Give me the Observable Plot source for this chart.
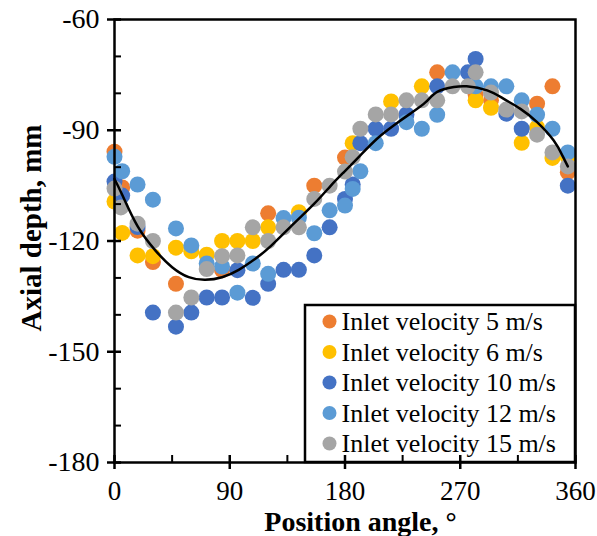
<!DOCTYPE html>
<html>
<head>
<meta charset="utf-8">
<script src="https://cdn.jsdelivr.net/npm/d3@7"></script>
<script src="https://cdn.jsdelivr.net/npm/@observablehq/plot@0.6"></script>
<style>
  html, body { margin: 0; padding: 0; background: white; }
  #chart { width: 597px; height: 536px; }
</style>
</head>
<body>
<div id="chart"></div>
<script>
// ---- Data ----
const seriesNames = ["Inlet velocity 5 m/s", "Inlet velocity 6 m/s", "Inlet velocity 10 m/s", "Inlet velocity 12 m/s", "Inlet velocity 15 m/s"];
const seriesColors = ["#ED7D31", "#FFC000", "#4472C4", "#5B9BD5", "#A5A5A5"];

const angle5 = [0, 6, 18, 30, 48, 84, 120, 156, 180, 252, 282, 294, 330, 342, 354];
const depth5 = [-95.8, -105.5, -117.2, -125.7, -131.6, -127.9, -112.5, -105.0, -97.4, -74.3, -80.4, -81.9, -82.8, -78.1, -101.4];

const angle6 = [0, 6, 18, 30, 48, 60, 72, 84, 96, 108, 120, 144, 186, 216, 240, 282, 294, 318, 330, 342, 354];
const depth6 = [-109.3, -117.8, -123.9, -124.1, -121.8, -122.8, -123.7, -120.0, -120.0, -120.0, -116.3, -112.2, -93.5, -82.2, -78.1, -81.9, -83.9, -93.4, -89.2, -97.5, -97.3];

const angle10 = [0, 6, 18, 30, 48, 60, 72, 84, 96, 108, 120, 132, 144, 156, 168, 180, 186, 192, 204, 216, 228, 252, 276, 282, 306, 318, 354];
const depth10 = [-103.9, -107.7, -116.2, -139.4, -143.2, -139.4, -135.3, -135.3, -127.9, -135.4, -131.6, -127.8, -127.8, -123.9, -116.3, -108.6, -104.7, -93.5, -89.6, -89.6, -85.7, -78.1, -74.3, -70.7, -85.5, -89.6, -105.0];

const angle12 = [0, 6, 18, 30, 48, 60, 72, 84, 96, 108, 120, 132, 144, 156, 168, 180, 186, 192, 204, 228, 240, 252, 264, 282, 294, 306, 318, 330, 342, 354];
const depth12 = [-97.2, -101.1, -104.7, -108.8, -116.6, -121.2, -126.1, -126.9, -134.0, -126.1, -128.9, -113.8, -113.7, -117.9, -111.7, -110.4, -105.9, -101.1, -93.5, -87.8, -89.6, -85.8, -74.3, -78.1, -78.1, -78.1, -81.9, -85.8, -89.6, -96.0];

const angle15 = [0, 5, 18, 30, 48, 60, 72, 84, 96, 108, 120, 132, 144, 156, 168, 180, 186, 192, 204, 216, 228, 240, 252, 264, 276, 282, 294, 306, 318, 330, 342, 354];
const depth15 = [-105.8, -110.9, -115.3, -120.0, -139.4, -135.3, -127.6, -124.1, -123.9, -116.3, -120.0, -116.3, -116.3, -108.6, -105.0, -101.2, -97.3, -89.6, -85.7, -85.7, -81.9, -81.9, -81.9, -78.1, -78.1, -74.3, -79.8, -84.4, -84.9, -91.2, -96.0, -99.8];

// Trend line
const trendAngle = [0, 6, 18, 32, 45, 58, 71, 84, 97, 110, 122, 140, 156, 169, 179, 192, 205, 218, 231, 243, 252, 265, 275, 291, 304, 317, 330, 343, 350, 354];
const trendDepth = [-103.2, -107.5, -116.0, -122.6, -127.1, -129.8, -130.5, -129.8, -127.8, -124.8, -121.4, -115.3, -109.9, -105.0, -101.4, -96.8, -92.3, -88.7, -85.5, -82.4, -79.6, -78.3, -78.1, -79.2, -81.5, -84.2, -87.8, -92.8, -97.0, -99.8];

const xTicks = [0, 90, 180, 270, 360];
const xMinor = [45, 135, 225, 315];
const yTicks = [-180, -150, -120, -90, -60];
const yMinor = [-170, -160, -140, -130, -110, -100, -80, -70];

// ---- Build table ----
const allAngles = [angle5, angle6, angle10, angle12, angle15];
const allDepths = [depth5, depth6, depth10, depth12, depth15];
const points = [];
allAngles.forEach((xs, s) => xs.forEach((a, i) => points.push({series: seriesNames[s], angle: a, depth: allDepths[s][i]})));
const trend = trendAngle.map((a, i) => ({angle: a, depth: trendDepth[i]}));

// ---- Layout ----
const W = 597, H = 536;
const mTop = 19, mRight = 22, mBottom = 74, mLeft = 114;
const plotW = W - mLeft - mRight, plotH = H - mTop - mBottom;
const tickPx = 7;
const kx = tickPx * 360 / plotW;   // tick half-length in x units
const ky = tickPx * 120 / plotH;   // tick half-length in y units
const serif = "'Liberation Serif', 'Times New Roman', serif";

function legendMark(index, scales, values, dims) {
  const g = d3.create("svg:g");
  const right = dims.width - dims.marginRight;
  const bottom = dims.height - dims.marginBottom;
  const bw = 270, bh = 157;
  g.append("rect")
    .attr("x", right - bw).attr("y", bottom - bh)
    .attr("width", bw).attr("height", bh)
    .attr("fill", "white").attr("stroke", "black").attr("stroke-width", 2.5);
  seriesNames.forEach((name, i) => {
    const cy = bottom - bh + 16.5 + i * 30.5;
    g.append("circle").attr("cx", right - bw + 24.5).attr("cy", cy).attr("r", 7).attr("fill", seriesColors[i]);
    g.append("text").attr("x", right - bw + 36.5).attr("y", cy + 8.5)
      .attr("text-anchor", "start")
      .attr("font-size", 26).attr("font-family", serif).attr("fill", "black").text(name);
  });
  return g.node();
}

const chart = Plot.plot({
  width: W, height: H,
  marginTop: mTop, marginRight: mRight, marginBottom: mBottom, marginLeft: mLeft,
  style: {fontFamily: serif, fontSize: "28px", background: "white", color: "black"},
  x: {domain: [0, 360]},
  y: {domain: [-180, -60]},
  color: {domain: seriesNames, range: seriesColors},
  marks: [
    Plot.dot(points, {x: "angle", y: "depth", fill: "series", r: 8}),
    Plot.line(trend, {x: "angle", y: "depth", stroke: "black", strokeWidth: 2.5, curve: "natural"}),
    legendMark,
    Plot.frame({stroke: "black", strokeWidth: 2.5}),
    Plot.ruleY(yTicks, {x1: -kx, x2: kx, stroke: "black", strokeWidth: 2.5}),
    Plot.ruleY(yMinor, {x1: 0, x2: kx, stroke: "black", strokeWidth: 2}),
    Plot.ruleX(xTicks, {y1: -180 - ky, y2: -180 + ky, stroke: "black", strokeWidth: 2.5}),
    Plot.ruleX(xMinor, {y1: -180, y2: -180 + ky, stroke: "black", strokeWidth: 2}),
    Plot.axisY({ticks: yTicks, tickSize: 0, tickPadding: 15, fontSize: 28, tickFormat: d => String(d), label: null}),
    Plot.axisX({ticks: xTicks, tickSize: 0, tickPadding: 18, fontSize: 27, tickFormat: d => String(d), label: null}),
    Plot.text(["Position angle, °"], {text: d => d, frameAnchor: "bottom", lineAnchor: "bottom", textAnchor: "middle", dx: 15.5, dy: 68.5, fontWeight: "bold", fontSize: 28}),
    Plot.text(["Axial depth, mm"], {text: d => d, frameAnchor: "left", lineAnchor: "bottom", textAnchor: "middle", rotate: -90, dx: -74, dy: -13, fontWeight: "bold", fontSize: 29})
  ]
});
document.getElementById("chart").appendChild(chart);
</script>
</body>
</html>
